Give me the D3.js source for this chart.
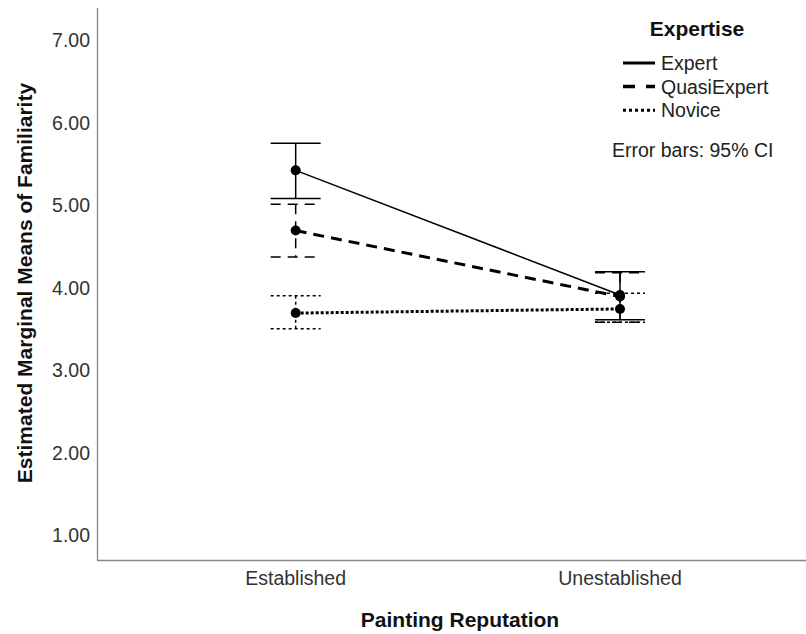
<!DOCTYPE html>
<html lang="en">
<head>
    <title>Estimated Marginal Means of Familiarity</title>
    <meta charset="UTF-8">
    <script type="text/javascript" src="https://cdn.jsdelivr.net/npm/d3@7/dist/d3.min.js"></script>
    <style>
        body {
            margin: 0;
            background: #fff;
        }

        svg text {
            font-family: "Liberation Sans", Arial, sans-serif;
        }

        .tick-label {
            font-size: 19.5px;
            fill: #333;
        }

        .axis-title {
            font-size: 21px;
            font-weight: bold;
            fill: #111;
        }

        .legend-text {
            font-size: 19.5px;
            fill: #222;
        }
    </style>
</head>
<body>
<div id="chart"></div>

<script type="text/javascript">
    // data
    var reputations = ['Established', 'Unestablished'];
    var expertise = ['Expert', 'QuasiExpert', 'Novice'];

    var expertMeans = [5.42, 3.91];
    var expertLower = [5.08, 3.61];
    var expertUpper = [5.75, 4.19];

    var quasiMeans = [4.69, 3.89];
    var quasiLower = [4.37, 3.58];
    var quasiUpper = [5.01, 4.18];

    var noviceMeans = [3.69, 3.74];
    var noviceLower = [3.50, 3.58];
    var noviceUpper = [3.90, 3.93];

    var yTicks = [1, 2, 3, 4, 5, 6, 7];

    var lineStyle = {
        Expert: {width: 1.5, dash: null, barDash: null, legendWidth: 3, legendDash: null},
        QuasiExpert: {width: 3, dash: '11,7', barDash: '10,7', legendWidth: 3.5, legendDash: '12,11'},
        Novice: {width: 3, dash: '3,2', barDash: '3,3', legendWidth: 3, legendDash: '3,3'}
    };

    var series = [
        {name: 'Expert', mean: expertMeans, lo: expertLower, hi: expertUpper},
        {name: 'QuasiExpert', mean: quasiMeans, lo: quasiLower, hi: quasiUpper},
        {name: 'Novice', mean: noviceMeans, lo: noviceLower, hi: noviceUpper}
    ];

    var width = 806, height = 634;
    var plot = {left: 97, right: 806, top: 8, bottom: 560};

    var svg = d3.select('#chart').append('svg')
        .attr('width', width)
        .attr('height', height);

    var x = d3.scalePoint()
        .domain(reputations)
        .range([plot.left, plot.right])
        .padding(0.593)
        .align(0.5165);

    var y = d3.scaleLinear()
        .domain([0.697, 7.388])
        .range([plot.bottom, plot.top]);

    // axes: SPSS style, just lines and labels
    svg.append('line')
        .attr('x1', plot.left + 0.5).attr('x2', plot.left + 0.5)
        .attr('y1', plot.top).attr('y2', plot.bottom)
        .attr('stroke', '#888').attr('stroke-width', 1.3);
    svg.append('line')
        .attr('x1', plot.left).attr('x2', plot.right)
        .attr('y1', plot.bottom + 0.5).attr('y2', plot.bottom + 0.5)
        .attr('stroke', '#888').attr('stroke-width', 1.3);

    svg.selectAll('.ytick')
        .data(yTicks)
        .enter()
        .append('text')
        .attr('class', 'tick-label')
        .attr('x', plot.left - 7)
        .attr('y', function (d) {
            return y(d)
        })
        .attr('dy', '0.36em')
        .attr('text-anchor', 'end')
        .text(d3.format('.2f'));

    svg.selectAll('.xtick')
        .data(reputations)
        .enter()
        .append('text')
        .attr('class', 'tick-label')
        .attr('x', function (d) {
            return x(d)
        })
        .attr('y', 585)
        .attr('text-anchor', 'middle')
        .text(function (d) {
            return d
        });

    svg.append('text')
        .attr('class', 'axis-title')
        .attr('x', 460)
        .attr('y', 627)
        .attr('text-anchor', 'middle')
        .text('Painting Reputation');

    svg.append('text')
        .attr('class', 'axis-title')
        .attr('transform', 'translate(32,283) rotate(-90)')
        .attr('text-anchor', 'middle')
        .text('Estimated Marginal Means of Familiarity');

    // error bars
    var capHalf = 25;
    series.forEach(function (s) {
        var st = lineStyle[s.name];
        var g = svg.append('g').attr('class', 'errbar ' + s.name);
        reputations.forEach(function (r, i) {
            var cx = x(r);
            g.append('line')
                .attr('x1', cx).attr('x2', cx)
                .attr('y1', y(s.hi[i])).attr('y2', y(s.lo[i]))
                .attr('stroke', '#000').attr('stroke-width', 1.5)
                .attr('stroke-dasharray', st.barDash);
            [s.hi[i], s.lo[i]].forEach(function (v) {
                g.append('line')
                    .attr('x1', cx - capHalf).attr('x2', cx + capHalf)
                    .attr('y1', y(v)).attr('y2', y(v))
                    .attr('stroke', '#000').attr('stroke-width', 1.5)
                    .attr('stroke-dasharray', st.barDash);
            });
        });
    });

    // mean lines
    var line = d3.line()
        .x(function (d) {
            return x(d.key)
        })
        .y(function (d) {
            return y(d.value)
        });

    series.forEach(function (s) {
        var st = lineStyle[s.name];
        var pts = reputations.map(function (r, i) {
            return {key: r, value: s.mean[i]}
        });
        svg.append('path')
            .datum(pts)
            .attr('d', line)
            .attr('fill', 'none')
            .attr('stroke', '#000')
            .attr('stroke-width', st.width)
            .attr('stroke-dasharray', st.dash);
        svg.selectAll(null)
            .data(pts)
            .enter()
            .append('circle')
            .attr('cx', function (d) {
                return x(d.key)
            })
            .attr('cy', function (d) {
                return y(d.value)
            })
            .attr('r', 5)
            .attr('fill', '#000');
    });

    // legend
    var legend = svg.append('g').attr('class', 'legend');
    legend.append('text')
        .attr('class', 'axis-title')
        .attr('x', 697)
        .attr('y', 36)
        .attr('text-anchor', 'middle')
        .text('Expertise');

    var item = legend.selectAll('.item')
        .data(expertise)
        .enter()
        .append('g')
        .attr('class', 'item')
        .attr('transform', function (d, i) {
            return 'translate(0,' + (63 + i * 23.6) + ')'
        });
    item.append('line')
        .attr('x1', 623).attr('x2', 655)
        .attr('stroke', '#000')
        .attr('stroke-width', function (d) {
            return lineStyle[d].legendWidth
        })
        .attr('stroke-dasharray', function (d) {
            return lineStyle[d].legendDash
        });
    item.append('text')
        .attr('class', 'legend-text')
        .attr('x', 661)
        .attr('dy', '0.36em')
        .text(function (d) {
            return d
        });

    legend.append('text')
        .attr('class', 'legend-text')
        .attr('x', 612)
        .attr('y', 157)
        .text('Error bars: 95% CI');
</script>
</body>
</html>
